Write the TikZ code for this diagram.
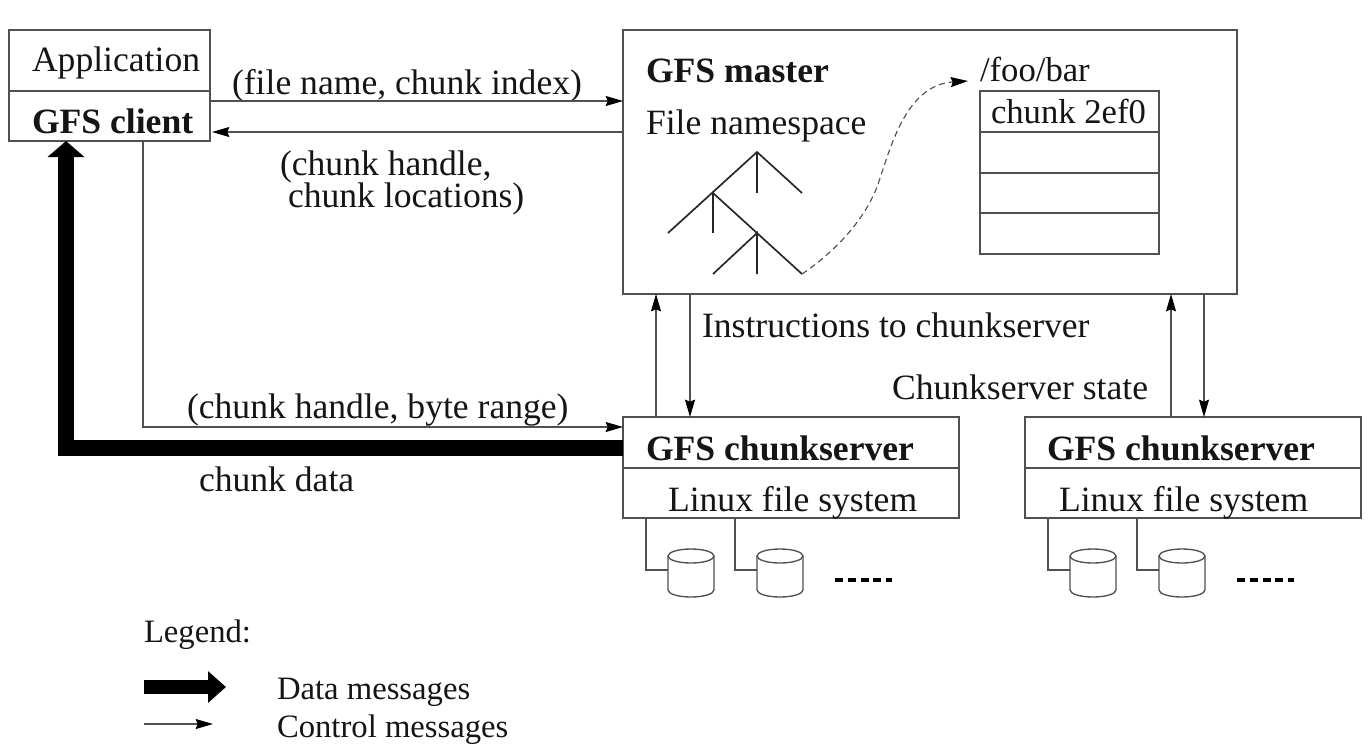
\documentclass[tikz,border=0pt]{standalone}
\usepackage{fontspec}
\setmainfont{Liberation Serif}
\usetikzlibrary{arrows.meta,fit,calc}
\definecolor{linec}{HTML}{505050}
\definecolor{inkc}{HTML}{151515}
\tikzset{
  box/.style={draw=linec,line width=1.1pt,inner sep=0pt,outer sep=0pt,fill=white},
  hold/.style={inner sep=0pt,outer sep=0pt},
  txt/.style={anchor=base west,inner sep=0pt,outer sep=0pt,text=inkc,font=\fontsize{26.7}{30}\selectfont},
  btxt/.style={txt,font=\fontsize{26.7}{30}\selectfont\bfseries},
  stxt/.style={txt,font=\fontsize{26}{30}\selectfont},
  ltxt/.style={txt,font=\fontsize{24.5}{28}\selectfont},
  ctl/.style={draw=linec,line width=0.85pt,-{Stealth[length=13pt,width=7.5pt,inset=1.5pt,color=black]}},
  plain/.style={draw=linec,line width=1pt},
  data/.style={draw=black,line width=12pt,line join=miter,-{Triangle[length=12pt,width=27pt,color=black]}},
  ltree/.style={draw=black!85,line width=1.25pt},
  dots/.style={draw=black,line width=2.8pt,dash pattern=on 6pt off 3.6pt},
}
\newcommand{\diskat}[2]{%
  \node[hold,fit={(#2,549)(#2+46,597)}] (#1) {};
  \draw[plain,fill=white] (#2,556) -- (#2,590) arc[start angle=180,end angle=360,x radius=17.25pt,y radius=5.25pt] -- (#2+46,556);
  \draw[plain,fill=white] (#2+23,556) ellipse[x radius=17.25pt,y radius=5.25pt];
}
\begin{document}
\begin{tikzpicture}[x=0.75pt,y=-0.75pt]
\useasboundingbox (0,0) rectangle (1369,747);
\fill[white] (0,0) rectangle (1369,747);
% boxes
\node[box,fit={(9,30)(210,91)}] (app) {};
\node[box,fit={(9,91)(210,141)}] (client) {};
\node[box,fit={(623,30)(1237,294)}] (master) {};
\node[box,fit={(980,91)(1159,132)}] (t1) {};
\node[box,fit={(980,132)(1159,173)}] (t2) {};
\node[box,fit={(980,173)(1159,213)}] (t3) {};
\node[box,fit={(980,213)(1159,254)}] (t4) {};
\node[box,fit={(623,417)(959,468)}] (cs1) {};
\node[box,fit={(623,468)(959,518)}] (fs1) {};
\node[box,fit={(1025,417)(1361,468)}] (cs2) {};
\node[box,fit={(1025,468)(1361,518)}] (fs2) {};
% labels
\node[txt] (lapp) at (32,71) {Application};
\node[btxt] (lclient) at (32,133) {GFS client};
\node[txt] (l1) at (232,94) {(file name, chunk index)};
\node[txt] (l2) at (280,175) {(chunk handle,};
\node[txt] (l3) at (288,207) {chunk locations)};
\node[btxt] (lmaster) at (646,82) {GFS master};
\node[txt] (lns) at (646,134) {File namespace};
\node[stxt] (lfoo) at (980,81) {/foo/bar};
\node[stxt] (lch) at (991,123) {chunk 2ef0};
\node[txt] (l4) at (702,337) {Instructions to chunkserver};
\node[txt] (l5) at (892,399) {Chunkserver state};
\node[txt] (l6) at (187,418) {(chunk handle, byte range)};
\node[txt] (l7) at (199,491) {chunk data};
\node[btxt] (lcs1) at (646,460) {GFS chunkserver};
\node[txt] (lfs1) at (668,511) {Linux file system};
\node[btxt] (lcs2) at (1047,460) {GFS chunkserver};
\node[txt] (lfs2) at (1059,511) {Linux file system};
\node[ltxt] (lleg) at (144,642) {Legend:};
\node[ltxt] (ldata) at (277,699) {Data messages};
\node[ltxt] (lctl) at (277,737) {Control messages};
% control connectors
\draw[ctl] (client.east |- 0,101) -- (master.west |- 0,101);
\draw[ctl] (master.west |- 0,132) -- ([xshift=1.5pt]client.east |- 0,132);
\draw[ctl] (client.south -| 143,0) |- (cs1.west |- 0,427);
\draw[ctl] (cs1.north -| 656,0) -- (master.south -| 656,0);
\draw[ctl] (master.south -| 690,0) -- (cs1.north -| 690,0);
\draw[ctl] (cs2.north -| 1171,0) -- (master.south -| 1171,0);
\draw[ctl] (master.south -| 1204,0) -- (cs2.north -| 1204,0);
% data connector
\draw[data] (cs1.west |- 0,448) -| (client.south -| 66,0);
% tree
\coordinate (leaf) at (802,274);
\draw[ltree] (668,233) -- (757,152) -- (802,193);
\draw[ltree] (757,152) -- (757,193);
\draw[ltree] (713,193) -- (713,233);
\draw[ltree] (713,193) -- (leaf);
\draw[ltree] (713,274) -- (757,233) -- (757,274);
% dashed curve
\coordinate (fooin) at (968,81);
\draw[draw=linec,line width=0.85pt,dash pattern=on 4.5pt off 3pt,-{Stealth[length=13pt,width=7.5pt,inset=1.5pt,color=black]}]
  (leaf) .. controls (830,255) and (862,225) .. (877,187)
  .. controls (890,150) and (905,85) .. (fooin);
% disks
\diskat{d11}{668}
\diskat{d12}{757}
\diskat{d21}{1070}
\diskat{d22}{1159}
\draw[plain] (fs1.south -| 646,0) |- (d11.west |- 0,570);
\draw[plain] (fs1.south -| 735,0) |- (d12.west |- 0,570);
\draw[plain] (fs2.south -| 1048,0) |- (d21.west |- 0,570);
\draw[plain] (fs2.south -| 1137,0) |- (d22.west |- 0,570);
\draw[dots] (835,580) -- (892,580);
\draw[dots] (1237,580) -- (1294,580);
% legend
\coordinate (a1) at (144,687);
\coordinate (a2) at (226,687);
\coordinate (b1) at (144,724);
\coordinate (b2) at (213,724);
\draw[draw=black,line width=9.8pt,-{Triangle[length=13.5pt,width=23pt,color=black]}] (a1) -- (a2);
\draw[ctl] (b1) -- (b2);
\end{tikzpicture}
\end{document}
